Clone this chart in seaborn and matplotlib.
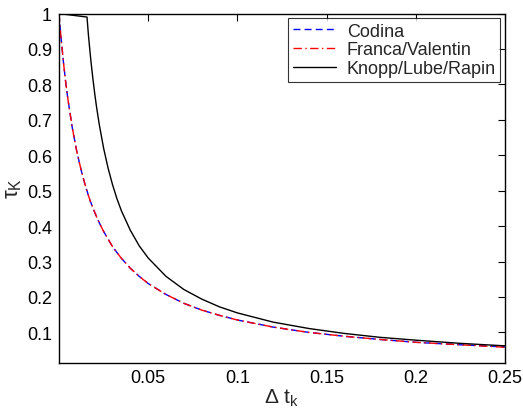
import matplotlib
matplotlib.use("Agg")
import matplotlib.pyplot as plt
import seaborn as sns
import pandas as pd

# ---- data ----
dt_codina = [0.0, 0.0005, 0.00125, 0.0025, 0.00375, 0.005, 0.0075, 0.01, 0.0125, 0.015,
             0.0175, 0.02, 0.0225, 0.025, 0.03, 0.035, 0.04, 0.045, 0.05, 0.06, 0.07,
             0.08, 0.09, 0.1, 0.12, 0.14, 0.16, 0.18, 0.2, 0.225, 0.25]
tau_codina = [1.000, 0.969, 0.926, 0.862, 0.806, 0.758, 0.676, 0.610, 0.556, 0.510,
              0.471, 0.439, 0.410, 0.385, 0.342, 0.309, 0.281, 0.258, 0.238, 0.207, 0.182,
              0.163, 0.148, 0.135, 0.115, 0.100, 0.089, 0.080, 0.072, 0.065, 0.059]
tau_franca = [1.000, 0.969, 0.926, 0.862, 0.806, 0.758, 0.676, 0.610, 0.556, 0.510,
              0.471, 0.439, 0.410, 0.385, 0.342, 0.309, 0.281, 0.258, 0.238, 0.207, 0.182,
              0.163, 0.148, 0.135, 0.115, 0.100, 0.089, 0.080, 0.072, 0.065, 0.058]
dt_knopp = [0.0, 0.0157, 0.0165, 0.0175, 0.018, 0.019, 0.02, 0.021, 0.0225, 0.025,
            0.0275, 0.03, 0.0325, 0.035, 0.04, 0.045, 0.05, 0.06, 0.07, 0.08, 0.09,
            0.1, 0.12, 0.14, 0.16, 0.18, 0.2, 0.225, 0.25]
tau_knopp = [1.000, 0.990, 0.939, 0.886, 0.861, 0.816, 0.775, 0.738, 0.689, 0.620,
             0.564, 0.517, 0.477, 0.443, 0.388, 0.344, 0.310, 0.258, 0.221, 0.194, 0.172,
             0.155, 0.129, 0.111, 0.097, 0.086, 0.078, 0.069, 0.062]

series_names = ["Codina", "Franca/Valentin", "Knopp/Lube/Rapin"]
xticks = [0.05, 0.1, 0.15, 0.2, 0.25]
xticklabels = ["0.05", "0.1", "0.15", "0.2", "0.25"]
yticks = [0.1, 0.2, 0.3, 0.4, 0.5, 0.6, 0.7, 0.8, 0.9, 1.0]
yticklabels = ["0.1", "0.2", "0.3", "0.4", "0.5", "0.6", "0.7", "0.8", "0.9", "1"]

sns.set_style("white")
plt.rcParams["font.family"] = ["Liberation Sans", "DejaVu Sans"]
plt.rcParams["mathtext.fontset"] = "custom"
plt.rcParams["mathtext.rm"] = "Liberation Sans"
plt.rcParams["mathtext.it"] = "Liberation Sans"

fig = plt.figure(figsize=(5.23, 4.10), dpi=100)
ax = fig.add_axes([0.1128, 0.1134, 0.8528, 0.8512])

df_c = pd.DataFrame({"dt": dt_codina, "tau": tau_codina})
df_f = pd.DataFrame({"dt": dt_codina, "tau": tau_franca})
df_k = pd.DataFrame({"dt": dt_knopp, "tau": tau_knopp})

sns.lineplot(data=df_c, x="dt", y="tau", ax=ax, color=(0, 0, 1), lw=1.0,
             linestyle=(0, (5, 3)), label=series_names[0], sort=False)
sns.lineplot(data=df_f, x="dt", y="tau", ax=ax, color=(1, 0, 0), lw=1.0,
             linestyle=(0, (6, 2.5, 1, 2.5)), label=series_names[1], sort=False)
sns.lineplot(data=df_k, x="dt", y="tau", ax=ax, color="black", lw=1.0,
             linestyle="-", label=series_names[2], sort=False)

ax.set_xlim(0.0, 0.25)
ax.set_ylim(0.015, 1.0)
ax.set_xticks(xticks)
ax.set_xticklabels(xticklabels)
ax.set_yticks(yticks)
ax.set_yticklabels(yticklabels)
ax.tick_params(direction="in", length=5, width=0.8, labelsize=13,
               top=True, right=True, colors="black", pad=5)
for s in ax.spines.values():
    s.set_color("black")
    s.set_linewidth(1.0)

ax.set_xlabel(r"$\Delta$ t$_{\rm k}$", fontsize=15, labelpad=0)
ax.set_ylabel(r"$\tau_{\rm K}$", fontsize=16, labelpad=2)

leg = ax.legend(loc="upper right", fontsize=13, frameon=True, fancybox=False,
                edgecolor="black", handlelength=2.4, borderpad=0.25,
                labelspacing=0.1, borderaxespad=0.25, handletextpad=0.6)
leg.get_frame().set_linewidth(0.8)

fig.savefig("out.png", dpi=100, facecolor="white")
